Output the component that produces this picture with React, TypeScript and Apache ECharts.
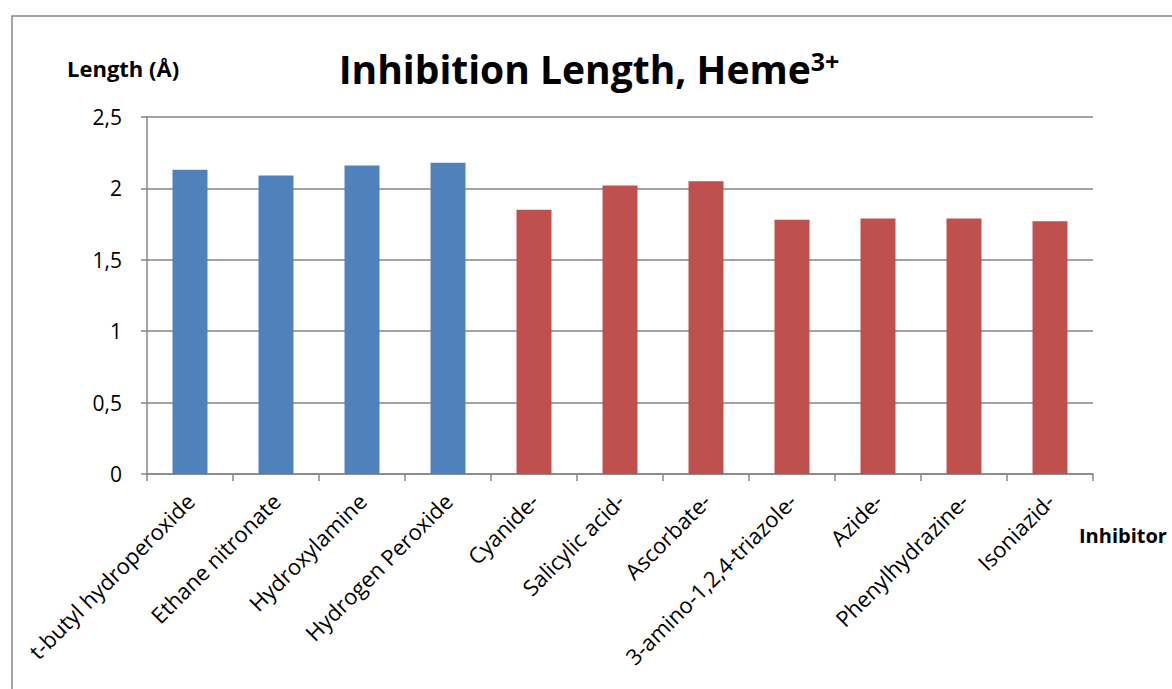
import React, { useEffect, useRef } from "react";
import * as echarts from "echarts";

// Inhibitor names along the category axis
const categories = [
  "t-butyl hydroperoxide",
  "Ethane nitronate",
  "Hydroxylamine",
  "Hydrogen Peroxide",
  "Cyanide-",
  "Salicylic acid-",
  "Ascorbate-",
  "3-amino-1,2,4-triazole-",
  "Azide-",
  "Phenylhydrazine-",
  "Isoniazid-",
];

// Inhibition length in Ångström
const lengths = [2.13, 2.09, 2.16, 2.18, 1.85, 2.02, 2.05, 1.78, 1.79, 1.79, 1.77];

// Neutral (0) vs. anionic (1) inhibitors
const groups = [0, 0, 0, 0, 1, 1, 1, 1, 1, 1, 1];

const groupColors = ["#4F81BD", "#C0504D"];

const FONT = "'Open Sans', Lato, sans-serif";

export default function App() {
  const ref = useRef<HTMLDivElement>(null);

  useEffect(() => {
    if (!ref.current) return;
    const chart = echarts.init(ref.current, null, { renderer: "svg" });
    chart.setOption({
      animation: false,
      backgroundColor: "#ffffff",
      grid: { left: 147, right: 79, top: 117, bottom: 215, containLabel: false },
      xAxis: {
        type: "category",
        data: categories,
        boundaryGap: true,
        axisLine: { show: true, lineStyle: { color: "#868686", width: 1.5 } },
        axisTick: { show: true, length: 7, alignWithLabel: false, lineStyle: { color: "#868686", width: 1.5 } },
        axisLabel: {
          interval: 0,
          rotate: 45,
          margin: 23,
          color: "#000",
          fontFamily: FONT,
          fontSize: 22,
        },
      },
      yAxis: {
        type: "value",
        min: 0,
        max: 2.5,
        interval: 0.5,
        axisLine: { show: true, lineStyle: { color: "#868686", width: 1.5 } },
        axisTick: { show: true, length: 6, lineStyle: { color: "#868686", width: 1.5 } },
        splitLine: { show: true, lineStyle: { color: "#868686", width: 1.5 } },
        axisLabel: {
          color: "#000",
          fontFamily: FONT,
          fontSize: 21,
          margin: 25,
          formatter: (v: number) => String(v).replace(".", ","),
        },
      },
      series: [
        {
          type: "bar",
          barWidth: 35,
          data: lengths.map((v, i) => ({
            value: v,
            itemStyle: { color: groupColors[groups[i]] },
          })),
        },
      ],
      graphic: [
        {
          type: "rect",
          shape: { x: 12, y: 16, width: 1200, height: 720 },
          style: { fill: "none", stroke: "#868686", lineWidth: 1.5 },
          z: -1,
        },
        {
          type: "text",
          x: 589,
          y: 68,
          style: {
            text: "{m|Inhibition Length, Heme}{s|3+}",
            align: "center",
            verticalAlign: "middle",
            rich: {
              m: { fontFamily: FONT, fontWeight: "bold", fontSize: 39, fill: "#000", verticalAlign: "bottom" },
              s: { fontFamily: FONT, fontWeight: "bold", fontSize: 25, fill: "#000", verticalAlign: "top", padding: [0, 0, 15, 0] },
            },
          },
        },
        {
          type: "text",
          x: 67,
          y: 68,
          style: {
            text: "Length (Å)",
            fontFamily: FONT,
            fontWeight: "bold",
            fontSize: 22,
            fill: "#000",
            verticalAlign: "middle",
          },
        },
        {
          type: "text",
          x: 1079,
          y: 535,
          style: {
            text: "Inhibitor",
            fontFamily: FONT,
            fontWeight: "bold",
            fontSize: 20,
            fill: "#000",
            verticalAlign: "middle",
          },
        },
      ],
    });
    return () => chart.dispose();
  }, []);

  return <div ref={ref} style={{ width: 1172, height: 689, position: "absolute", left: 0, top: 0 }} />;
}
